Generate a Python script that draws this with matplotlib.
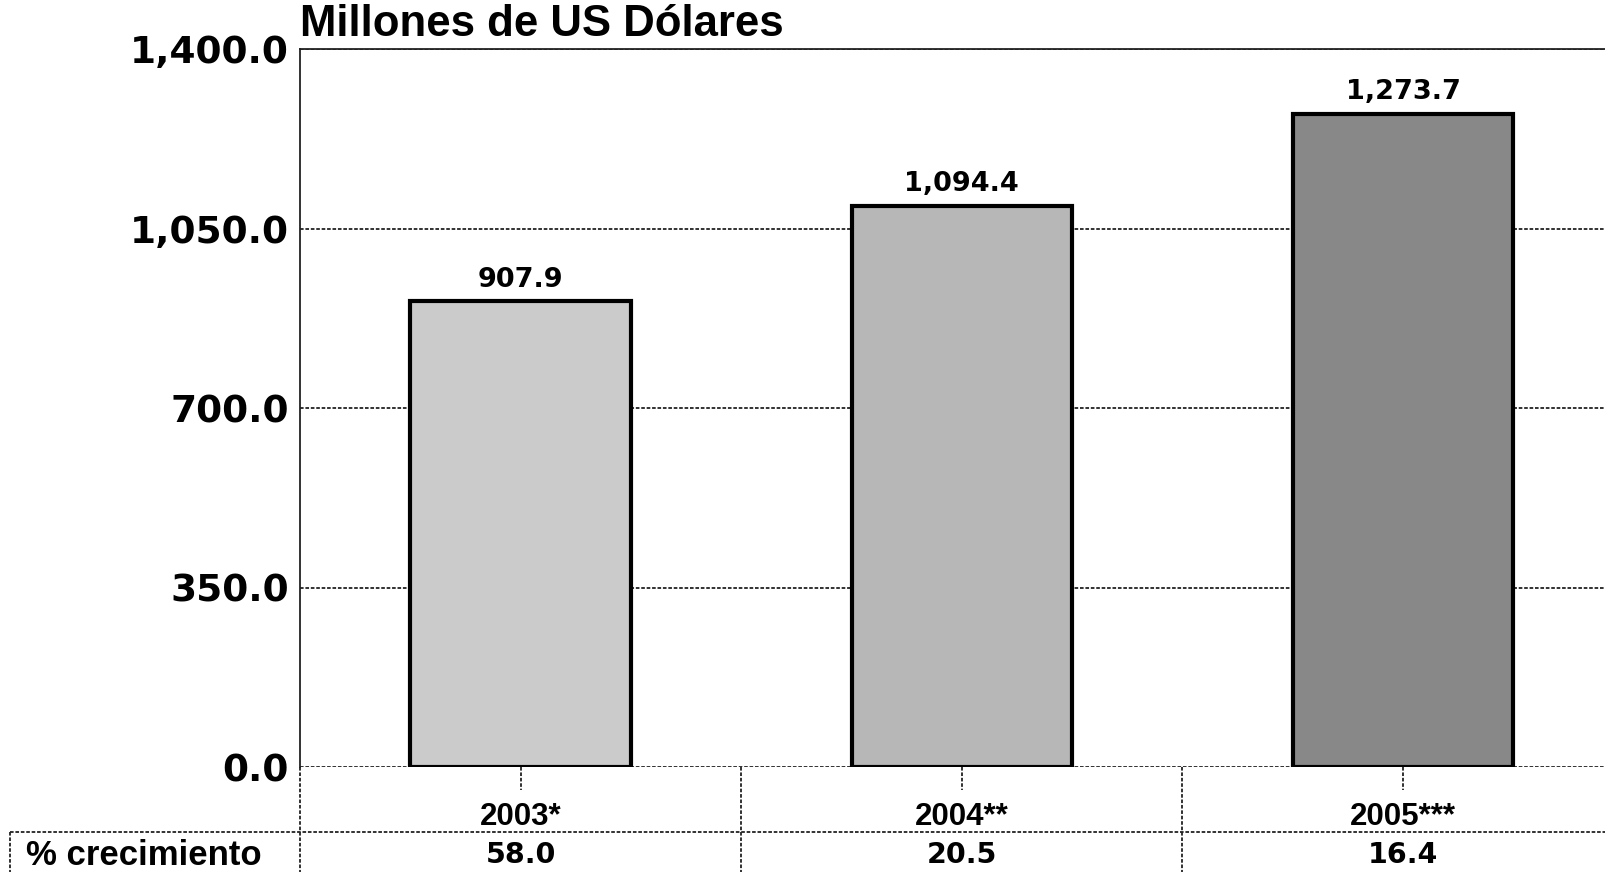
import matplotlib
matplotlib.use("Agg")
import matplotlib.pyplot as plt
from matplotlib.transforms import blended_transform_factory

# Data
categories = ["2003*", "2004**", "2005***"]
values = [907.9, 1094.4, 1273.7]
growth = ["58.0", "20.5", "16.4"]
bar_colors = ["#cbcbcb", "#b7b7b7", "#888888"]
yticks = [0, 350, 700, 1050, 1400]

W, H, DPI = 1606, 872, 100
fig = plt.figure(figsize=(W / DPI, H / DPI), dpi=DPI)

x0, x_top, y_zero, y_top = 300, 1606, 767, 49
ax = fig.add_axes([x0 / W, (H - y_zero) / H, (x_top - x0) / W, (y_zero - y_top) / H])

bold = "DejaVu Sans"
sans = ["Liberation Sans", "DejaVu Sans"]
dot = dict(color="#222222", linewidth=1.3, linestyle=(0, (2, 1)))

xs = list(range(len(categories)))
ax.bar(xs, values, width=0.5, color=bar_colors, edgecolor="black",
       linewidth=3, zorder=3)
for x, v in zip(xs, values):
    ax.annotate(f"{v:,.1f}", (x, v), xytext=(0, 6), textcoords="offset points",
                ha="center", va="bottom", fontsize=19.5, fontweight="bold",
                family=bold, zorder=4)

ax.set_xlim(-0.5, 2.46)
ax.set_ylim(0, 1400)
ax.set_yticks(yticks)
ax.set_yticklabels([f"{t:,.1f}" for t in yticks], fontsize=27,
                   fontweight="bold", family=bold)
ax.tick_params(axis="y", length=0, pad=8)
ax.grid(axis="y", zorder=0, **dot)

for s in ["right", "bottom"]:
    ax.spines[s].set_visible(False)
for s in ["left", "top"]:
    ax.spines[s].set_linestyle((0, (2, 1)))
    ax.spines[s].set_linewidth(1.3)
    ax.spines[s].set_color("#222222")

# Category labels under the axis
ax.set_xticks(xs)
ax.set_xticklabels(categories, fontsize=22.5, fontweight="bold", family=sans)
ax.tick_params(axis="x", length=0, pad=25)

# Table of growth rates below the chart
ftr = blended_transform_factory(ax.transData, fig.transFigure)
px = lambda y: (H - y) / H
for x in xs:
    ax.plot([x, x], [px(767), px(790)], transform=ftr, clip_on=False, **dot)
for b in [-0.5, 0.5, 1.5]:
    ax.plot([b, b], [px(767), px(H + 2)], transform=ftr, clip_on=False, **dot)
fig.add_artist(plt.Line2D([10 / W, 1.0], [px(832), px(832)],
                          transform=fig.transFigure, **dot))
fig.add_artist(plt.Line2D([10 / W, 10 / W], [px(832), px(H + 2)],
                          transform=fig.transFigure, **dot))
for x, g in zip(xs, growth):
    ax.text(x, px(855), g, transform=ftr, ha="center", va="center",
            fontsize=20.5, fontweight="bold", family=bold)
fig.text(26 / W, px(855), "% crecimiento", ha="left", va="center",
         fontsize=25, fontweight="bold", family=sans)

# Unit title
fig.text(x0 / W, px(24), "Millones de US Dólares", ha="left", va="center",
         fontsize=31.5, fontweight="bold", family=sans)

fig.savefig("out.png", dpi=DPI)
